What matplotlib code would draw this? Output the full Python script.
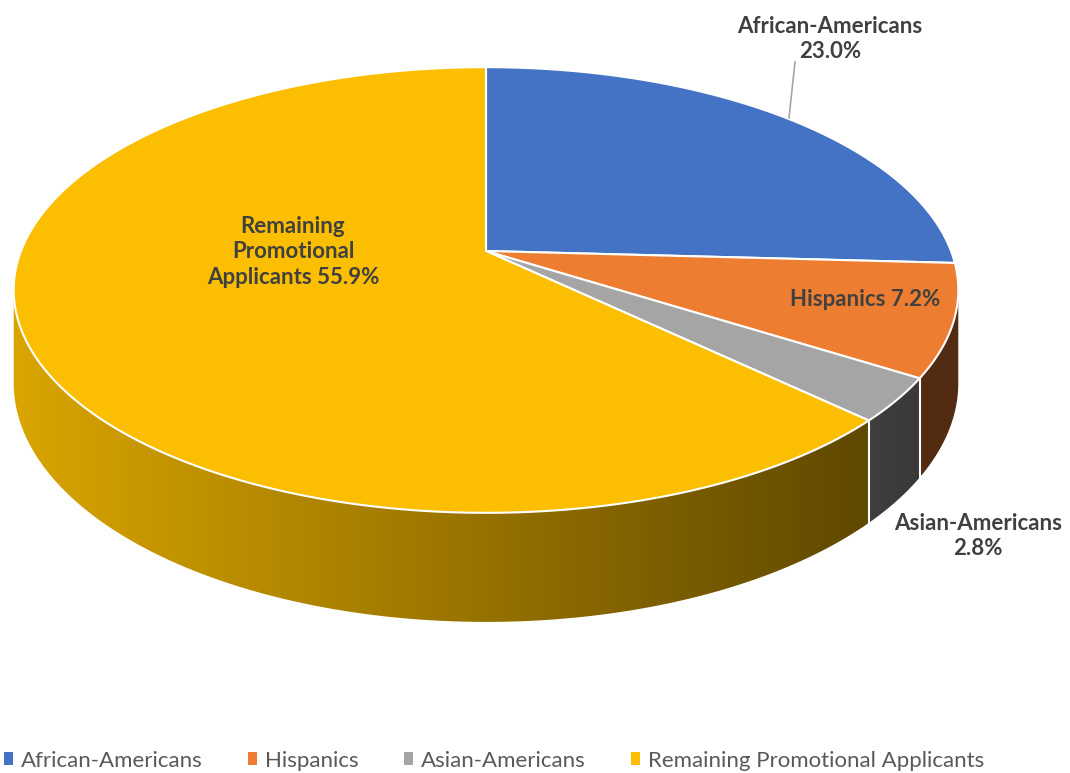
import numpy as np
import matplotlib
matplotlib.use('Agg')
import matplotlib.pyplot as plt
from matplotlib.patches import Polygon, Patch
from matplotlib.colors import to_rgb

labels = ['African-Americans', 'Hispanics', 'Asian-Americans', 'Remaining Promotional Applicants']
values = [23.0, 7.2, 2.8, 55.9]
colors = ['#4472C4', '#ED7D31', '#A5A5A5', '#FBBE00']
slice_text = ['African-Americans\n23.0%', 'Hispanics 7.2%', 'Asian-Americans\n2.8%',
              'Remaining\nPromotional\nApplicants 55.9%']

# pie geometry in pixels (simple perspective)
cx, cy = 486, 251
A, B, k = 465, 216, 0.175
h = 90


def top(t):
    w = 1 + k * np.sin(t)
    return cx + A * np.cos(t) / w, cy - B * np.sin(t) / w


def bottom(t):
    x, y = top(t)
    return x, y + h / (1 + k * np.sin(t))


def shade(x):
    return np.clip(0.87 - 0.49 * (x - 13) / 852, 0.35, 0.9)


plt.rcParams['font.family'] = ['Lato', 'DejaVu Sans']
fig = plt.figure(figsize=(10.7, 7.73), dpi=100)
ax = fig.add_axes([0, 0, 1, 1])

frac = np.array(values) / np.sum(values)
bounds = np.pi / 2 - 2 * np.pi * np.concatenate([[0], np.cumsum(frac)])
lo, hi = -np.pi + np.arcsin(k), -np.arcsin(k)

xs = np.arange(1070)
# sides
for i in range(len(values)):
    t1, t0 = bounds[i], bounds[i + 1]
    a, b = max(t0, lo), min(t1, hi)
    if a >= b:
        continue
    tt = np.linspace(a, b, 200)
    xt, yt = top(tt)
    xb, yb = bottom(tt[::-1])
    poly = Polygon(np.column_stack([np.r_[xt, xb], np.r_[yt, yb]]), closed=True,
                   facecolor='none', edgecolor='none')
    ax.add_patch(poly)
    img = np.array(to_rgb(colors[i]))[None, None, :] * shade(xs)[None, :, None]
    im = ax.imshow(img, extent=[0, 1070, 773, 0], aspect='auto', interpolation='bilinear')
    im.set_clip_path(poly)

# white edges between side faces
for t in bounds[1:-1]:
    if lo < t < hi:
        x0, y0 = top(t)
        x1, y1 = bottom(t)
        ax.plot([x0, x1], [y0, y1], color='white', lw=1.5)

# tops
for i in range(len(values)):
    tt = np.linspace(bounds[i], bounds[i + 1], 300)
    xt, yt = top(tt)
    ax.fill(np.r_[cx, xt], np.r_[cy, yt], facecolor=colors[i], edgecolor='white', lw=1.5)

# data labels
lab_pos = [(830, 39), (865, 300), (978, 536), (293, 252)]
for s, (x, y) in zip(slice_text, lab_pos):
    ax.text(x, y, s, ha='center', va='center', fontsize=16, fontweight='bold',
            color='#404040', linespacing=1.25)
ax.plot([795, 789], [62, 118], color='#A6A6A6', lw=1.2)

handles = [Patch(facecolor=c, edgecolor='none') for c in colors]
ax.legend(handles, labels, loc='center', bbox_to_anchor=(0.462, 0.016), ncol=4, frameon=False,
          handlelength=0.4, handleheight=0.55, handletextpad=0.35, columnspacing=2.05,
          fontsize=16, labelcolor='#595959', borderaxespad=0, borderpad=0)

ax.set_xlim(0, 1070)
ax.set_ylim(773, 0)
ax.axis('off')
fig.savefig('out.png', dpi=100)
